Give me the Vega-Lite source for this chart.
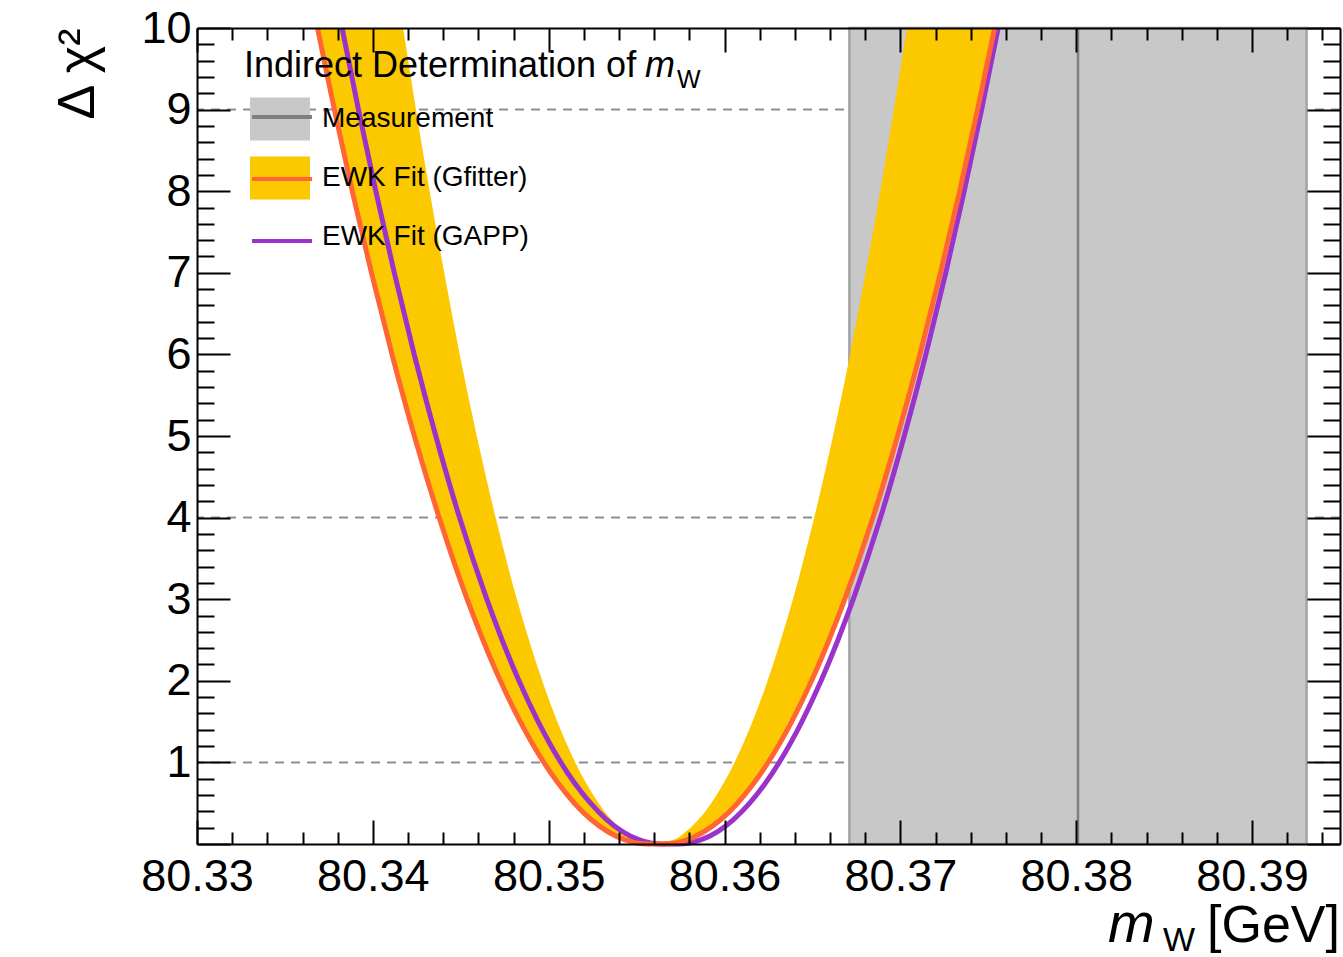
{
  "$schema": "https://vega.github.io/schema/vega-lite/v6.json",
  "width": 1143,
  "height": 816,
  "autosize": {"type": "none"},
  "padding": {"left": 197, "top": 28, "right": 3, "bottom": 113},
  "background": "white",
  "config": {
    "font": "Liberation Sans",
    "view": {"stroke": null},
    "axis": {"grid": false, "labelColor": "#000", "tickColor": "#000", "domainColor": "#000", "labelFont": "Liberation Sans", "titleFont": "Liberation Sans"}
  },
  "datasets": {
    "levels": [{"level": 1}, {"level": 4}, {"level": 9}],
    "meas": [{"fname": "Measurement", "sname": "meas_line", "lo": 80.3671, "hi": 80.3931, "central": 80.3801}],
    "band": [
      {"side": "L", "chi2": 0, "xa": 80.35567, "xb": 80.35604},
      {"side": "L", "chi2": 0.05, "xa": 80.35434, "xb": 80.35503},
      {"side": "L", "chi2": 0.15, "xa": 80.35337, "xb": 80.35429},
      {"side": "L", "chi2": 0.3, "xa": 80.35241, "xb": 80.35356},
      {"side": "L", "chi2": 0.5, "xa": 80.35146, "xb": 80.35284},
      {"side": "L", "chi2": 0.75, "xa": 80.35052, "xb": 80.35212},
      {"side": "L", "chi2": 1, "xa": 80.34972, "xb": 80.35151},
      {"side": "L", "chi2": 1.5, "xa": 80.34838, "xb": 80.35049},
      {"side": "L", "chi2": 2, "xa": 80.34725, "xb": 80.34963},
      {"side": "L", "chi2": 2.5, "xa": 80.34626, "xb": 80.34888},
      {"side": "L", "chi2": 3, "xa": 80.34536, "xb": 80.34819},
      {"side": "L", "chi2": 4, "xa": 80.34377, "xb": 80.34698},
      {"side": "L", "chi2": 5, "xa": 80.34236, "xb": 80.34591},
      {"side": "L", "chi2": 6, "xa": 80.34109, "xb": 80.34494},
      {"side": "L", "chi2": 7, "xa": 80.33992, "xb": 80.34406},
      {"side": "L", "chi2": 8, "xa": 80.33883, "xb": 80.34323},
      {"side": "L", "chi2": 9, "xa": 80.33781, "xb": 80.34245},
      {"side": "L", "chi2": 10, "xa": 80.33685, "xb": 80.34172},
      {"side": "R", "chi2": 0, "xa": 80.35604, "xb": 80.35653},
      {"side": "R", "chi2": 0.05, "xa": 80.35705, "xb": 80.35786},
      {"side": "R", "chi2": 0.15, "xa": 80.35779, "xb": 80.35883},
      {"side": "R", "chi2": 0.3, "xa": 80.35852, "xb": 80.35979},
      {"side": "R", "chi2": 0.5, "xa": 80.35924, "xb": 80.36074},
      {"side": "R", "chi2": 0.75, "xa": 80.35996, "xb": 80.36168},
      {"side": "R", "chi2": 1, "xa": 80.36057, "xb": 80.36248},
      {"side": "R", "chi2": 1.5, "xa": 80.36159, "xb": 80.36382},
      {"side": "R", "chi2": 2, "xa": 80.36245, "xb": 80.36495},
      {"side": "R", "chi2": 2.5, "xa": 80.3632, "xb": 80.36594},
      {"side": "R", "chi2": 3, "xa": 80.36389, "xb": 80.36684},
      {"side": "R", "chi2": 4, "xa": 80.3651, "xb": 80.36844},
      {"side": "R", "chi2": 5, "xa": 80.36617, "xb": 80.36984},
      {"side": "R", "chi2": 6, "xa": 80.36714, "xb": 80.37111},
      {"side": "R", "chi2": 7, "xa": 80.36802, "xb": 80.37228},
      {"side": "R", "chi2": 8, "xa": 80.36885, "xb": 80.37337},
      {"side": "R", "chi2": 9, "xa": 80.36963, "xb": 80.37439},
      {"side": "R", "chi2": 10, "xa": 80.37037, "xb": 80.37536}
    ],
    "gfitter": [
      {"x": 80.33685, "chi2": 10}, {"x": 80.33781, "chi2": 9}, {"x": 80.33883, "chi2": 8}, {"x": 80.33992, "chi2": 7},
      {"x": 80.34109, "chi2": 6}, {"x": 80.34236, "chi2": 5}, {"x": 80.34377, "chi2": 4}, {"x": 80.34536, "chi2": 3},
      {"x": 80.34626, "chi2": 2.5}, {"x": 80.34725, "chi2": 2}, {"x": 80.34838, "chi2": 1.5}, {"x": 80.34972, "chi2": 1},
      {"x": 80.35052, "chi2": 0.75}, {"x": 80.35146, "chi2": 0.5}, {"x": 80.35241, "chi2": 0.3}, {"x": 80.35337, "chi2": 0.15},
      {"x": 80.35434, "chi2": 0.05}, {"x": 80.35567, "chi2": 0}, {"x": 80.35653, "chi2": 0}, {"x": 80.35786, "chi2": 0.05},
      {"x": 80.35883, "chi2": 0.15}, {"x": 80.35979, "chi2": 0.3}, {"x": 80.36074, "chi2": 0.5}, {"x": 80.36168, "chi2": 0.75},
      {"x": 80.36248, "chi2": 1}, {"x": 80.36382, "chi2": 1.5}, {"x": 80.36495, "chi2": 2}, {"x": 80.36594, "chi2": 2.5},
      {"x": 80.36684, "chi2": 3}, {"x": 80.36844, "chi2": 4}, {"x": 80.36984, "chi2": 5}, {"x": 80.37111, "chi2": 6},
      {"x": 80.37228, "chi2": 7}, {"x": 80.37337, "chi2": 8}, {"x": 80.37439, "chi2": 9}, {"x": 80.37536, "chi2": 10}
    ],
    "gapp": [
      {"x": 80.33825, "chi2": 10}, {"x": 80.33918, "chi2": 9}, {"x": 80.34017, "chi2": 8}, {"x": 80.34122, "chi2": 7},
      {"x": 80.34235, "chi2": 6}, {"x": 80.34358, "chi2": 5}, {"x": 80.34493, "chi2": 4}, {"x": 80.34648, "chi2": 3},
      {"x": 80.34735, "chi2": 2.5}, {"x": 80.34831, "chi2": 2}, {"x": 80.3494, "chi2": 1.5}, {"x": 80.35069, "chi2": 1},
      {"x": 80.35146, "chi2": 0.75}, {"x": 80.35238, "chi2": 0.5}, {"x": 80.35329, "chi2": 0.3}, {"x": 80.35422, "chi2": 0.15},
      {"x": 80.35516, "chi2": 0.05}, {"x": 80.35644, "chi2": 0}, {"x": 80.35736, "chi2": 0}, {"x": 80.35864, "chi2": 0.05},
      {"x": 80.35959, "chi2": 0.15}, {"x": 80.36051, "chi2": 0.3}, {"x": 80.36143, "chi2": 0.5}, {"x": 80.36234, "chi2": 0.75},
      {"x": 80.36311, "chi2": 1}, {"x": 80.3644, "chi2": 1.5}, {"x": 80.36549, "chi2": 2}, {"x": 80.36645, "chi2": 2.5},
      {"x": 80.36732, "chi2": 3}, {"x": 80.36887, "chi2": 4}, {"x": 80.37022, "chi2": 5}, {"x": 80.37145, "chi2": 6},
      {"x": 80.37258, "chi2": 7}, {"x": 80.37363, "chi2": 8}, {"x": 80.37462, "chi2": 9}, {"x": 80.37556, "chi2": 10}
    ]
  },
  "layer": [
    {
      "data": {"name": "levels"},
      "mark": {"type": "rule", "color": "#8e8e8e", "strokeWidth": 2, "strokeDash": [9, 7]},
      "encoding": {
        "y": {"field": "level", "type": "quantitative", "scale": {"domain": [0, 10], "nice": false, "zero": false}, "axis": null}
      }
    },
    {
      "data": {"name": "meas"},
      "mark": {"type": "rect", "stroke": "#a3a3a3", "strokeWidth": 2.5, "opacity": 1},
      "encoding": {
        "x": {"field": "lo", "type": "quantitative", "scale": {"domain": [80.33, 80.395], "nice": false, "zero": false}, "axis": null},
        "x2": {"field": "hi"},
        "fill": {
          "field": "fname", "type": "nominal",
          "scale": {"domain": ["Measurement", "EWK Fit (Gfitter)", "EWK Fit (GAPP)"], "range": ["#c8c8c8", "#fcc800", "transparent"]},
          "legend": {"orient": "none", "legendX": 53, "legendY": 61, "title": null, "padding": 0, "direction": "vertical",
            "symbolType": "M-1,-0.72H1V0.72H-1Z", "symbolSize": 3600, "symbolStrokeWidth": 0, "symbolOpacity": 1,
            "labelFontSize": 28, "labelFont": "Liberation Sans", "labelColor": "#000", "labelOffset": 12, "labelLimit": 600, "rowPadding": 7}
        }
      }
    },
    {
      "data": {"name": "meas"},
      "mark": {"type": "rule", "strokeWidth": 2.5},
      "encoding": {
        "x": {"field": "central", "type": "quantitative", "scale": {"domain": [80.33, 80.395], "nice": false, "zero": false}, "axis": null},
        "stroke": {
          "field": "sname", "type": "nominal",
          "scale": {"domain": ["meas_line", "gfitter_line", "gapp_line"], "range": ["#7f7f7f", "#ff6633", "#9933cc"]},
          "legend": {"orient": "none", "legendX": 53, "legendY": 57, "title": null, "padding": 0, "direction": "vertical",
            "symbolType": "M-1,-0.72M-1,0.72M-1,0H1", "symbolSize": 3600, "symbolStrokeWidth": 4, "symbolOpacity": 1,
            "labelExpr": "''", "labelFontSize": 28, "labelFont": "Liberation Sans", "labelOffset": 12, "labelLimit": 600, "rowPadding": -3.5}
        }
      }
    },
    {
      "data": {"name": "band"},
      "transform": [{"calculate": "'EWK Fit (Gfitter)'", "as": "fname"}],
      "mark": {"type": "area", "orient": "horizontal", "opacity": 1, "interpolate": "monotone"},
      "encoding": {
        "y": {"field": "chi2", "type": "quantitative", "scale": {"domain": [0, 10], "nice": false, "zero": false},
          "axis": {"orient": "left", "values": [1, 2, 3, 4, 5, 6, 7, 8, 9, 10], "format": "d", "ticks": false, "domain": false, "labelFontSize": 45, "labelPadding": 6, "labelFlush": false, "labelOverlap": false,
            "title": "Δ χ²", "titleFontSize": 52, "titleFontWeight": "normal", "titleColor": "#000", "titleAngle": 270, "titleX": -104, "titleY": 0, "titleAlign": "right", "titleBaseline": "alphabetic"}},
        "x": {"field": "xa", "type": "quantitative", "scale": {"domain": [80.33, 80.395], "nice": false, "zero": false},
          "axis": {"orient": "bottom", "values": [80.33, 80.34, 80.35, 80.36, 80.37, 80.38, 80.39], "format": ".2f", "ticks": false, "domain": false, "labelFontSize": 45, "labelPadding": 10, "labelFlush": false, "labelOverlap": false, "title": null}},
        "x2": {"field": "xb"},
        "detail": {"field": "side"},
        "fill": {"field": "fname", "type": "nominal"}
      }
    },
    {
      "data": {"name": "gapp"},
      "transform": [{"calculate": "'gapp_line'", "as": "sname"}],
      "mark": {"type": "line", "strokeWidth": 5, "interpolate": "monotone", "strokeJoin": "round"},
      "encoding": {
        "x": {"field": "x", "type": "quantitative", "scale": {"domain": [80.33, 80.395], "nice": false, "zero": false},
          "axis": {"orient": "bottom", "values": [80.332, 80.334, 80.336, 80.338, 80.342, 80.344, 80.346, 80.348, 80.352, 80.354, 80.356, 80.358, 80.362, 80.364, 80.366, 80.368, 80.372, 80.374, 80.376, 80.378, 80.382, 80.384, 80.386, 80.388, 80.392, 80.394],
            "labels": false, "ticks": true, "tickSize": -12, "tickWidth": 2, "domain": false, "title": null, "zindex": 1}},
        "y": {"field": "chi2", "type": "quantitative", "scale": {"domain": [0, 10], "nice": false, "zero": false},
          "axis": {"orient": "left", "values": [0.2, 0.4, 0.6, 0.8, 1.2, 1.4, 1.6, 1.8, 2.2, 2.4, 2.6, 2.8, 3.2, 3.4, 3.6, 3.8, 4.2, 4.4, 4.6, 4.8, 5.2, 5.4, 5.6, 5.8, 6.2, 6.4, 6.6, 6.8, 7.2, 7.4, 7.6, 7.8, 8.2, 8.4, 8.6, 8.8, 9.2, 9.4, 9.6, 9.8],
            "labels": false, "ticks": true, "tickSize": -17, "tickWidth": 2, "domain": false, "title": null, "zindex": 1}},
        "stroke": {"field": "sname", "type": "nominal"}
      }
    },
    {
      "data": {"name": "gfitter"},
      "transform": [{"calculate": "'gfitter_line'", "as": "sname"}],
      "mark": {"type": "line", "strokeWidth": 5, "interpolate": "monotone", "strokeJoin": "round"},
      "encoding": {
        "x": {"field": "x", "type": "quantitative", "scale": {"domain": [80.33, 80.395], "nice": false, "zero": false},
          "axis": {"orient": "bottom", "values": [80.33, 80.34, 80.35, 80.36, 80.37, 80.38, 80.39],
            "labels": false, "ticks": true, "tickSize": -24, "tickWidth": 2, "domain": true, "domainWidth": 2, "title": null, "zindex": 1}},
        "y": {"field": "chi2", "type": "quantitative", "scale": {"domain": [0, 10], "nice": false, "zero": false},
          "axis": {"orient": "left", "values": [0, 1, 2, 3, 4, 5, 6, 7, 8, 9, 10],
            "labels": false, "ticks": true, "tickSize": -33, "tickWidth": 2, "domain": true, "domainWidth": 2, "title": null, "zindex": 1}},
        "stroke": {"field": "sname", "type": "nominal"}
      }
    },
    {
      "data": {"values": [{}]},
      "mark": {"type": "text", "text": "Indirect Determination of", "align": "left", "baseline": "alphabetic", "fontSize": 36, "color": "#000"},
      "encoding": {
        "x": {"datum": 80.33267, "type": "quantitative", "scale": {"domain": [80.33, 80.395], "nice": false, "zero": false},
          "axis": {"orient": "top", "values": [80.33, 80.34, 80.35, 80.36, 80.37, 80.38, 80.39],
            "labels": false, "ticks": true, "tickSize": -24, "tickWidth": 2, "domain": true, "domainWidth": 2, "title": null, "zindex": 1}},
        "y": {"datum": 9.4, "type": "quantitative", "scale": {"domain": [0, 10], "nice": false, "zero": false},
          "axis": {"orient": "right", "values": [0, 1, 2, 3, 4, 5, 6, 7, 8, 9, 10],
            "labels": false, "ticks": true, "tickSize": -33, "tickWidth": 2, "domain": true, "domainWidth": 2, "title": null, "zindex": 1}}
      }
    },
    {
      "data": {"values": [{}]},
      "mark": {"type": "text", "text": "m", "align": "left", "baseline": "alphabetic", "fontSize": 36, "fontStyle": "italic", "color": "#000"},
      "encoding": {
        "x": {"datum": 80.35548, "type": "quantitative", "scale": {"domain": [80.33, 80.395], "nice": false, "zero": false},
          "axis": {"orient": "top", "values": [80.332, 80.334, 80.336, 80.338, 80.342, 80.344, 80.346, 80.348, 80.352, 80.354, 80.356, 80.358, 80.362, 80.364, 80.366, 80.368, 80.372, 80.374, 80.376, 80.378, 80.382, 80.384, 80.386, 80.388, 80.392, 80.394],
            "labels": false, "ticks": true, "tickSize": -12, "tickWidth": 2, "domain": false, "title": null, "zindex": 1}},
        "y": {"datum": 9.4, "type": "quantitative", "scale": {"domain": [0, 10], "nice": false, "zero": false},
          "axis": {"orient": "right", "values": [0.2, 0.4, 0.6, 0.8, 1.2, 1.4, 1.6, 1.8, 2.2, 2.4, 2.6, 2.8, 3.2, 3.4, 3.6, 3.8, 4.2, 4.4, 4.6, 4.8, 5.2, 5.4, 5.6, 5.8, 6.2, 6.4, 6.6, 6.8, 7.2, 7.4, 7.6, 7.8, 8.2, 8.4, 8.6, 8.8, 9.2, 9.4, 9.6, 9.8],
            "labels": false, "ticks": true, "tickSize": -17, "tickWidth": 2, "domain": false, "title": null, "zindex": 1}}
      }
    },
    {
      "data": {"values": [{}]},
      "mark": {"type": "text", "text": "W", "align": "left", "baseline": "alphabetic", "fontSize": 25, "color": "#000"},
      "encoding": {
        "x": {"datum": 80.3573, "type": "quantitative", "scale": {"domain": [80.33, 80.395], "nice": false, "zero": false}, "axis": null},
        "y": {"datum": 9.265, "type": "quantitative", "scale": {"domain": [0, 10], "nice": false, "zero": false}, "axis": null}
      }
    },
    {
      "data": {"values": [{}]},
      "mark": {"type": "text", "text": "[GeV]", "align": "right", "baseline": "alphabetic", "fontSize": 52, "color": "#000"},
      "encoding": {
        "x": {"datum": 80.395, "type": "quantitative", "scale": {"domain": [80.33, 80.395], "nice": false, "zero": false}, "axis": null},
        "y": {"datum": -1.2, "type": "quantitative", "scale": {"domain": [0, 10], "nice": false, "zero": false}, "axis": null}
      }
    },
    {
      "data": {"values": [{}]},
      "mark": {"type": "text", "text": "m", "align": "left", "baseline": "alphabetic", "fontSize": 56, "fontStyle": "italic", "color": "#000"},
      "encoding": {
        "x": {"datum": 80.38181, "type": "quantitative", "scale": {"domain": [80.33, 80.395], "nice": false, "zero": false}, "axis": null},
        "y": {"datum": -1.2, "type": "quantitative", "scale": {"domain": [0, 10], "nice": false, "zero": false}, "axis": null}
      }
    },
    {
      "data": {"values": [{}]},
      "mark": {"type": "text", "text": "W", "align": "left", "baseline": "alphabetic", "fontSize": 34, "color": "#000"},
      "encoding": {
        "x": {"datum": 80.38493, "type": "quantitative", "scale": {"domain": [80.33, 80.395], "nice": false, "zero": false}, "axis": null},
        "y": {"datum": -1.31, "type": "quantitative", "scale": {"domain": [0, 10], "nice": false, "zero": false}, "axis": null}
      }
    }
  ],
  "resolve": {"axis": {"x": "independent", "y": "independent"}}
}
